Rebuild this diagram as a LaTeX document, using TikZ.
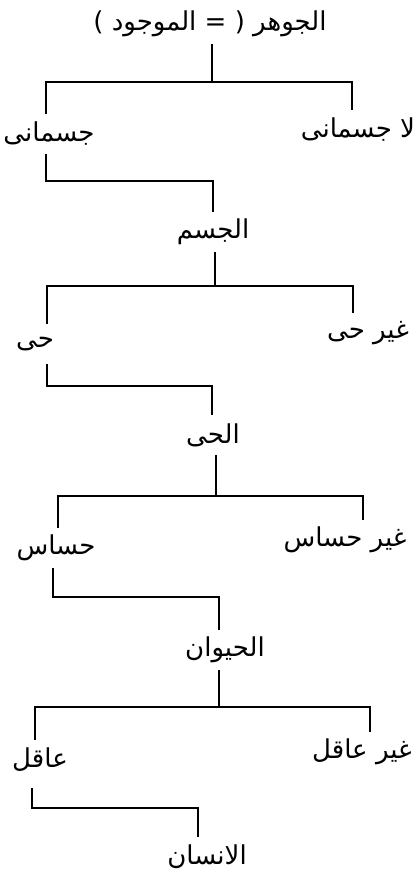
\documentclass[tikz,border=0pt]{standalone}
\usepackage{fontspec}
\newfontfamily\arabicfont[Script=Arabic]{DejaVu Sans}
\TeXXeTstate=1
\newcommand{\artext}[1]{\beginR #1\endR}

\begin{document}
\begin{tikzpicture}[
    x=1pt, y=-1pt,
    every node/.style={inner sep=0pt, minimum height=40pt, font=\arabicfont\fontsize{26}{30}\selectfont},
    link/.style={draw=black, line width=1.4pt}
]
\useasboundingbox (0,0) rectangle (419,882);

\node (jawhar) at (210,24) {\artext{الجوهر ( = الموجود )}};
\node (jismani) at (49,134) {\artext{جسمانى}};
\node (lajismani) at (358,130) {\artext{لا جسمانى}};
\node (jism) at (213,232) {\artext{الجسم}};
\node (hayy) at (35,344) {\artext{حى}};
\node (ghayrhayy) at (368,333) {\artext{غير حى}};
\node (alhayy) at (213,435) {\artext{الحى}};
\node (hassas) at (56,548) {\artext{حساس}};
\node (ghayrhassas) at (345,540) {\artext{غير حساس}};
\node (hayawan) at (225,650) {\artext{الحيوان}};
\node (aqil) at (40,760) {\artext{عاقل}};
\node (ghayraqil) at (362,752) {\artext{غير عاقل}};
\node (insan) at (207,857) {\artext{الانسان}};

% bars
\coordinate (b1) at (212,82);
\coordinate (b2) at (213,181);
\coordinate (b3) at (215,286);
\coordinate (b4) at (212,386);
\coordinate (b5) at (216,496);
\coordinate (b6) at (219,597);
\coordinate (b7) at (219,707);
\coordinate (b8) at (198,808);

\draw[link] (jawhar.south -| b1) -- (b1);
\draw[link] ([xshift=-3pt]jismani.north) |- (b1) -| ([xshift=-6pt]lajismani.north);

\draw[link] ([xshift=-3pt]jismani.south) |- (b2) -- (jism.north -| b2);

\draw[link] (jism.south -| b3) -- (b3);
\draw[link] ([xshift=12pt]hayy.north) |- (b3) -| ([xshift=-15pt]ghayrhayy.north);

\draw[link] ([xshift=12pt]hayy.south) |- (b4) -- (alhayy.north -| b4);

\draw[link] (alhayy.south -| b5) -- (b5);
\draw[link] ([xshift=2pt]hassas.north) |- (b5) -| ([xshift=18pt]ghayrhassas.north);

\draw[link] ([xshift=-3pt]hassas.south) |- (b6) -- (hayawan.north -| b6);

\draw[link] (hayawan.south -| b7) -- (b7);
\draw[link] ([xshift=-5pt]aqil.north) |- (b7) -| ([xshift=8pt]ghayraqil.north);

\draw[link] ([xshift=-8pt,yshift=-8pt]aqil.south) |- (b8) -- (insan.north -| b8);

\end{tikzpicture}
\end{document}
